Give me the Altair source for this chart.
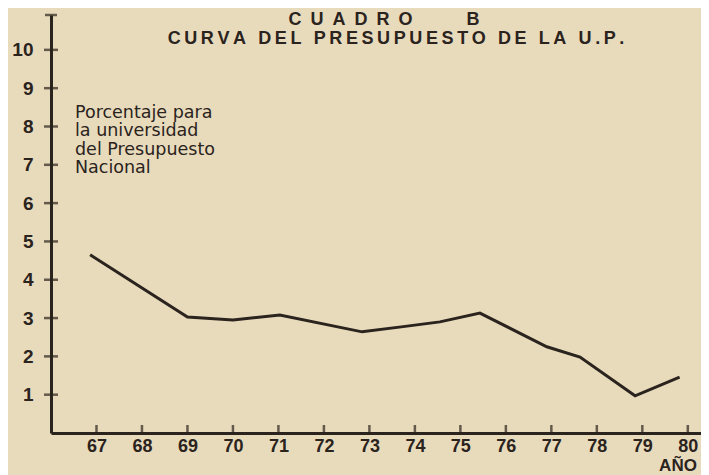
import altair as alt
import pandas as pd

# ---- data ----
years = [66.86, 69.0, 70.0, 71.03, 72.84, 73.7, 74.55, 75.43, 76.9, 77.63, 78.84, 79.82]
values = [4.65, 3.03, 2.95, 3.08, 2.64, 2.77, 2.90, 3.13, 2.25, 1.98, 0.97, 1.46]
y_tick_values = [1, 2, 3, 4, 5, 6, 7, 8, 9, 10]
x_tick_values = [67, 68, 69, 70, 71, 72, 73, 74, 75, 76, 77, 78, 79, 80]
title_line1 = "CUADRO B"
title_line2 = "CURVA DEL PRESUPUESTO DE LA U.P."
note_text = "Porcentaje para\nla universidad\ndel Presupuesto\nNacional"
x_title = "AÑO"

INK = "#2b231d"
PAPER = "#e8dbbc"
FONT = "Liberation Sans"
NOTE_FONT = "DejaVu Sans"

X_DOMAIN = [66, 80.29]
Y_DOMAIN = [0, 10.91]


def tracked(s, sep):
    # wide letter spacing of the printed title
    return sep.join(list(s))


xs = alt.Scale(domain=X_DOMAIN, nice=False, zero=False)
ys = alt.Scale(domain=Y_DOMAIN, nice=False, zero=False)

X_AXIS = alt.Axis(
    values=x_tick_values, format="d", title=None, grid=False, ticks=False,
    domain=True, domainColor=INK, domainWidth=3,
    labelFont=FONT, labelFontSize=18, labelFontWeight="bold", labelColor=INK,
    labelPadding=4)
Y_AXIS = alt.Axis(
    values=y_tick_values, format="d", title=None, grid=False, ticks=False,
    domain=True, domainColor=INK, domainWidth=3,
    labelFont=FONT, labelFontSize=19, labelFontWeight="bold", labelColor=INK,
    labelPadding=18)

line_df = pd.DataFrame({"year": years, "pct": values})
yt_df = pd.DataFrame({"v": y_tick_values})
xt_df = pd.DataFrame({"yr": x_tick_values})

line = alt.Chart(line_df).mark_line(color=INK, strokeWidth=3, strokeJoin="miter").encode(
    x=alt.X("year:Q", scale=xs, axis=X_AXIS),
    y=alt.Y("pct:Q", scale=ys, axis=Y_AXIS),
)

y_ticks = alt.Chart(yt_df).mark_tick(orient="horizontal", color=INK, size=14, thickness=2.5).encode(
    x=alt.datum(X_DOMAIN[0], scale=xs, axis=X_AXIS),
    y=alt.Y("v:Q", scale=ys, axis=Y_AXIS),
)

y_cap = alt.Chart(pd.DataFrame({"v": [Y_DOMAIN[1]]})).mark_tick(
    orient="horizontal", color=INK, size=12, thickness=2.5).encode(
    x=alt.datum(X_DOMAIN[0], scale=xs, axis=X_AXIS),
    y=alt.Y("v:Q", scale=ys, axis=Y_AXIS),
)

x_ticks = alt.Chart(xt_df).mark_tick(orient="vertical", color=INK, size=8, thickness=2.5, yOffset=-4).encode(
    x=alt.X("yr:Q", scale=xs, axis=X_AXIS),
    y=alt.datum(0, scale=ys, axis=Y_AXIS),
)


def label(text, x, y, size, weight="bold", align="center", baseline="middle", font=FONT, **kw):
    return alt.Chart(pd.DataFrame({"t": [0]})).mark_text(
        text=text, font=font, fontSize=size, fontWeight=weight, color=INK,
        align=align, baseline=baseline, **kw).encode(x=alt.value(x), y=alt.value(y))


t1 = label(tracked(title_line1.replace(" ", "\u2003\u2002"), "\u2002"), 333, 5, 18)
t2 = label(tracked(title_line2, "\u2009"), 345, 24, 18)
note = label(note_text, 24, 89, 17.5, weight="normal", align="left", baseline="top",
             font=NOTE_FONT, lineBreak="\n", lineHeight=18.3)
xt = label(x_title, 627, 456, 17, baseline="alphabetic")

chart = alt.layer(line, y_ticks, y_cap, x_ticks, t1, t2, note, xt).properties(
    width=650, height=418,
    autosize=alt.AutoSizeParams(type="none"),
    padding={"left": 43, "top": 7, "right": 0, "bottom": 42},
    background=PAPER,
).configure_view(stroke=None)

chart.save("out.html", embed_options={"renderer": "svg", "actions": False})
